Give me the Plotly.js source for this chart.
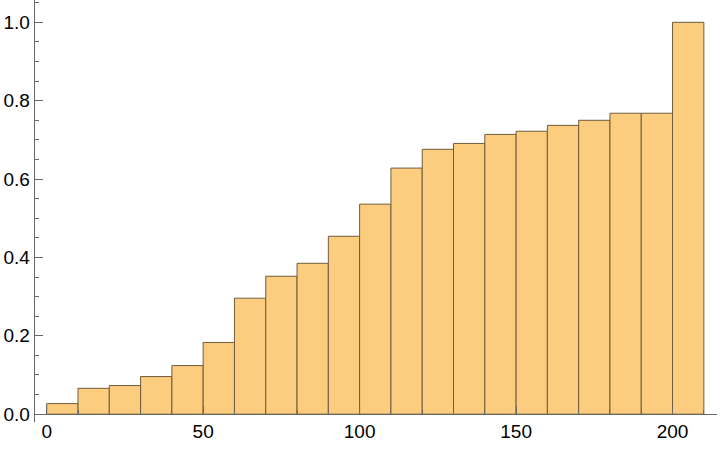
<!DOCTYPE html>
<html>
<head>
<meta charset="utf-8">
<script src="https://cdn.plot.ly/plotly-3.0.1.min.js"></script>
<style>html,body{margin:0;padding:0;background:#fff;}#chart{width:720px;height:450px;}</style>
</head>
<body>
<div id="chart"></div>
<script>
const binStart = [0,10,20,30,40,50,60,70,80,90,100,110,120,130,140,150,160,170,180,190,200];
const binWidth = 10;
const values = [0.027,0.066,0.073,0.096,0.124,0.183,0.296,0.352,0.385,0.454,0.536,0.628,0.676,0.691,0.714,0.722,0.737,0.750,0.768,0.768,1.0];
const xTicks = [0,50,100,150,200];
const yTicks = [0,0.2,0.4,0.6,0.8,1.0];

const axisColor = 'rgb(105,105,105)';
const trace = {
  type: 'bar',
  x: binStart.map(b => b + binWidth/2),
  y: values,
  width: binStart.map(() => binWidth),
  marker: {color: 'rgb(252,205,127)', line: {color: 'rgb(110,92,62)', width: 1}},
  hoverinfo: 'none'
};
const yLow = -0.02, yHigh = 1.057;
const layout = {
  width: 720, height: 450,
  margin: {l: 35, r: 3, t: 0, b: 28},
  paper_bgcolor: '#fff', plot_bgcolor: '#fff',
  showlegend: false,
  font: {family: 'Liberation Sans, Arial, sans-serif', size: 19, color: '#000'},
  xaxis: {
    range: [-3.74, 214.2],
    anchor: 'free',
    position: (0 - yLow) / (yHigh - yLow),
    showgrid: false, zeroline: false,
    showline: true, linecolor: axisColor, linewidth: 1.3,
    ticks: 'inside', ticklen: 8, tickcolor: axisColor, tickwidth: 1,
    tickvals: xTicks, ticktext: xTicks.map(String),
    minor: {dtick: 10, ticks: 'inside', ticklen: 4, tickcolor: axisColor, tickwidth: 1, showgrid: false},
    tickfont: {size: 19, color: '#000'}
  },
  yaxis: {
    range: [yLow, yHigh],
    showgrid: false, zeroline: false,
    showline: true, linecolor: axisColor, linewidth: 1.3,
    ticks: 'inside', ticklen: 8, tickcolor: axisColor, tickwidth: 1,
    tickvals: yTicks, ticktext: yTicks.map(v => v.toFixed(1)),
    minor: {dtick: 0.05, tick0: 0, ticks: 'inside', ticklen: 4, tickcolor: axisColor, tickwidth: 1, showgrid: false},
    tickfont: {size: 19, color: '#000'}
  },
  bargap: 0
};
Plotly.newPlot('chart', [trace], layout, {displayModeBar: false, staticPlot: true});
</script>
</body>
</html>
